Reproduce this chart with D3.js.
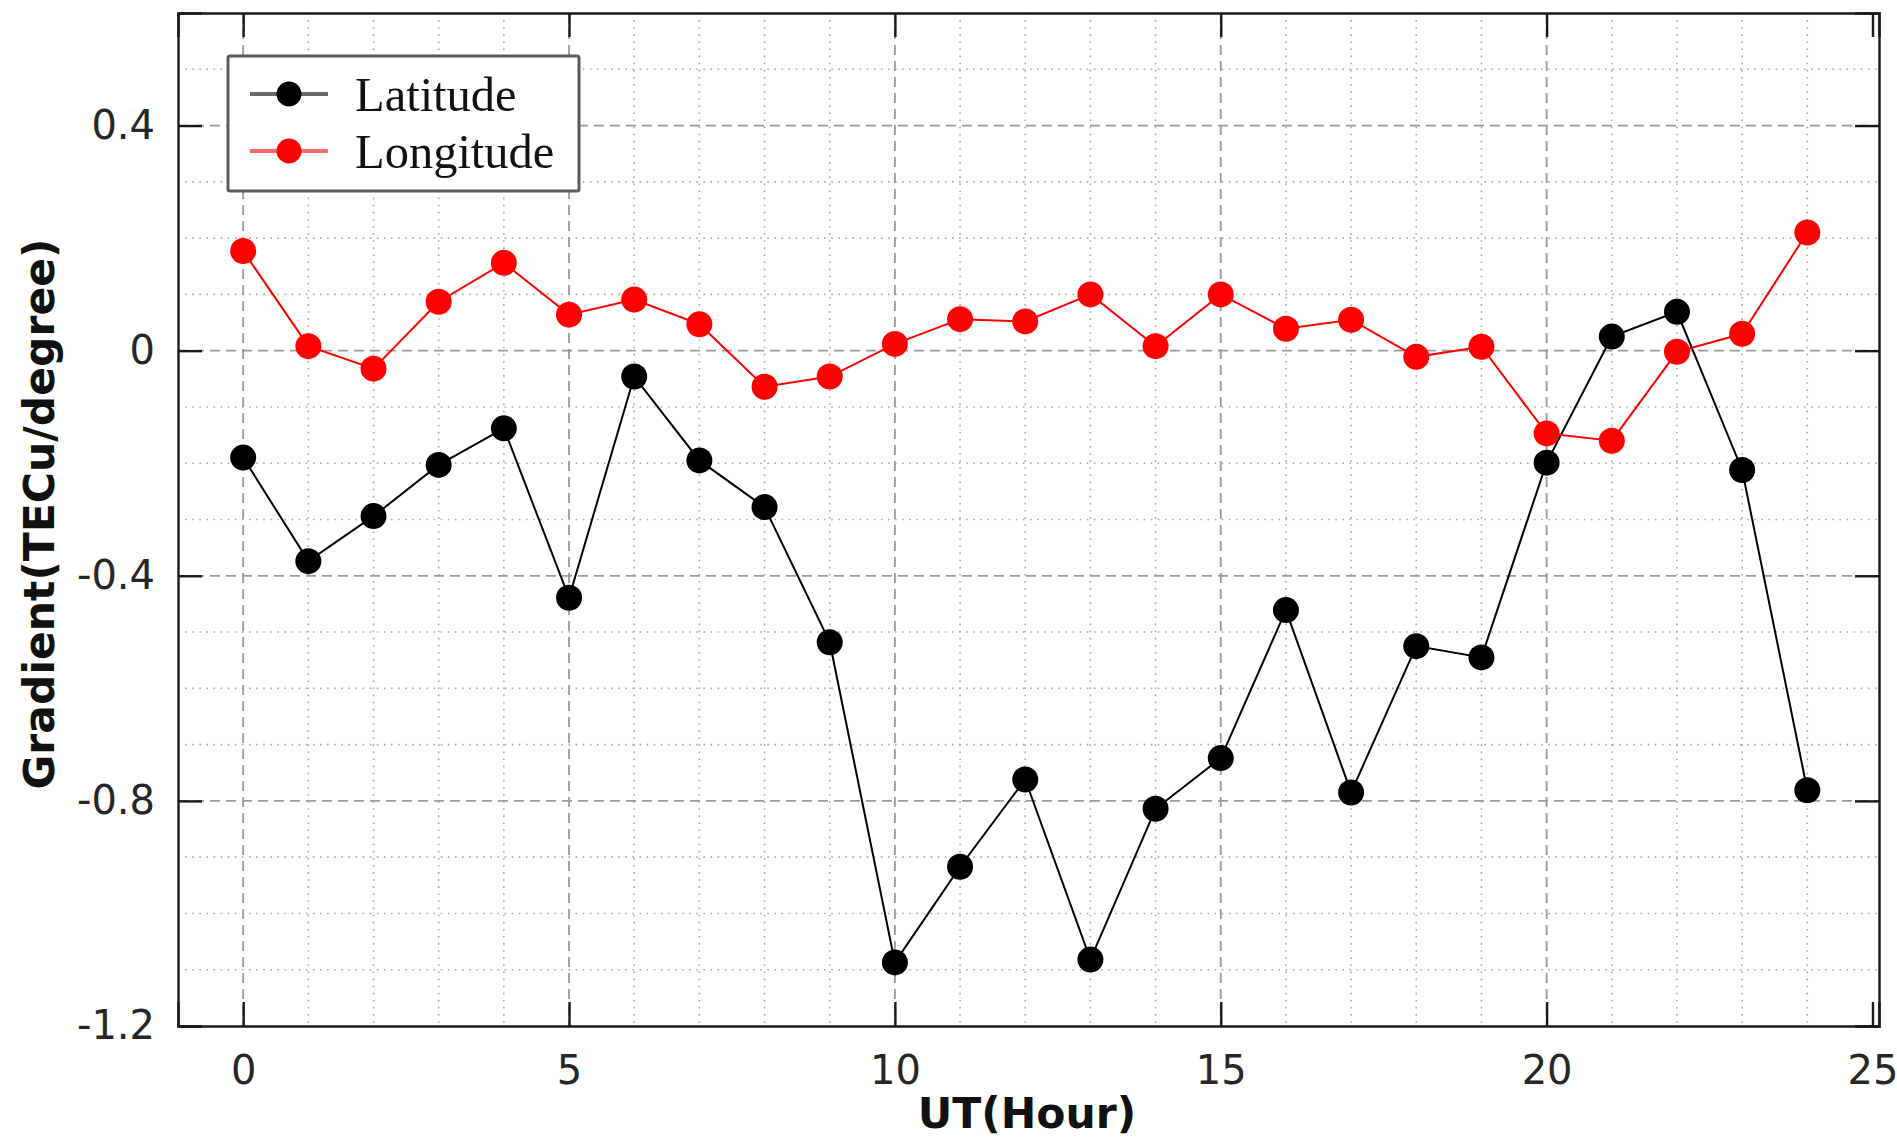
<!DOCTYPE html>
<html>
<head>
<meta charset="utf-8">
<script src="https://cdn.jsdelivr.net/npm/d3@7"></script>
<style>
  html, body { margin: 0; padding: 0; background: #fff; }
  svg { display: block; }
</style>
</head>
<body>
<svg id="chart" width="1897" height="1137"></svg>
<script>
const hours = [0,1,2,3,4,5,6,7,8,9,10,11,12,13,14,15,16,17,18,19,20,21,22,23,24];
const latitude = [-0.19, -0.374, -0.294, -0.203, -0.138, -0.439, -0.046, -0.195, -0.278, -0.518,
                  -1.087, -0.917, -0.762, -1.082, -0.814, -0.724, -0.461, -0.785, -0.525, -0.545,
                  -0.199, 0.025, 0.069, -0.212, -0.781];
const longitude = [0.177, 0.008, -0.032, 0.087, 0.156, 0.064, 0.091, 0.047, -0.064, -0.046,
                   0.012, 0.056, 0.052, 0.100, 0.008, 0.100, 0.039, 0.055, -0.011, 0.007,
                   -0.147, -0.160, -0.002, 0.030, 0.210];
const seriesNames = ["Latitude", "Longitude"];
const xTicks = [0, 5, 10, 15, 20, 25];
const yTicks = [-1.2, -0.8, -0.4, 0, 0.4];
const yTickLabels = ["-1.2", "-0.8", "-0.4", "0", "0.4"];
const xTitle = "UT(Hour)";
const yTitle = "Gradient(TECu/degree)";

const L = 178, R = 1879, T = 13, B = 1026;
const svg = d3.select("#chart");
const x = d3.scaleLinear().domain([-1, 25.1]).range([L, R]);
const y = d3.scaleLinear().domain([-1.2, 0.6]).range([B, T]);

const grid = svg.append("g");
// minor grid
const minorX = d3.range(0, 25, 1).filter(v => v % 5 !== 0);
const minorY = d3.range(-11, 6, 1).map(v => v / 10).filter(v => Math.round(v * 10) % 4 !== 0);
grid.selectAll(".mx").data(minorX).enter().append("line")
  .attr("x1", d => x(d)).attr("x2", d => x(d)).attr("y1", T).attr("y2", B)
  .attr("stroke", "#a8a8a8").attr("stroke-width", 1.6).attr("stroke-dasharray", "1.6,5.5");
grid.selectAll(".my").data(minorY).enter().append("line")
  .attr("y1", d => y(d)).attr("y2", d => y(d)).attr("x1", L).attr("x2", R)
  .attr("stroke", "#a8a8a8").attr("stroke-width", 1.6).attr("stroke-dasharray", "1.6,5.5");
// major grid
grid.selectAll(".Mx").data(xTicks.filter(v => v < 25)).enter().append("line")
  .attr("x1", d => x(d)).attr("x2", d => x(d)).attr("y1", T).attr("y2", B)
  .attr("stroke", "#9a9a9a").attr("stroke-width", 1.8).attr("stroke-dasharray", "10,6");
grid.selectAll(".My").data(yTicks.filter(v => v > -1.2)).enter().append("line")
  .attr("y1", d => y(d)).attr("y2", d => y(d)).attr("x1", L).attr("x2", R)
  .attr("stroke", "#9a9a9a").attr("stroke-width", 1.8).attr("stroke-dasharray", "10,6");

// axes
const tickFont = "'DejaVu Sans', sans-serif";
const axB = svg.append("g").attr("transform", `translate(0,${B})`)
  .call(d3.axisBottom(x).tickValues(xTicks).tickSize(-24).tickPadding(30).tickFormat(d3.format("d")));
const axT = svg.append("g").attr("transform", `translate(0,${T})`)
  .call(d3.axisTop(x).tickValues(xTicks).tickSize(-24).tickFormat(""));
const axLf = svg.append("g").attr("transform", `translate(${L},0)`)
  .call(d3.axisLeft(y).tickValues(yTicks).tickSize(-24).tickPadding(23)
    .tickFormat((d, i) => yTickLabels[i]));
const axRt = svg.append("g").attr("transform", `translate(${R},0)`)
  .call(d3.axisRight(y).tickValues(yTicks).tickSize(-24).tickFormat(""));
[axB, axT, axLf, axRt].forEach(a => {
  a.select(".domain").attr("stroke", "#1a1a1a").attr("stroke-width", 2.4);
  a.selectAll(".tick line").attr("stroke", "#1a1a1a").attr("stroke-width", 2.4);
  a.selectAll(".tick text").attr("fill", "#262626").style("font-family", tickFont).style("font-size", "40px");
});
axB.selectAll(".tick text").attr("dy", "0.71em");

// lines
const line = d3.line().x((d, i) => x(hours[i])).y(d => y(d));
const series = [{ vals: latitude, color: "#000000" }, { vals: longitude, color: "#ff0000" }];
series.forEach(s => {
  svg.append("path").datum(s.vals).attr("d", line)
    .attr("fill", "none").attr("stroke", s.color).attr("stroke-width", 2);
});
series.forEach(s => {
  svg.append("g").selectAll("circle").data(s.vals).enter().append("circle")
    .attr("cx", (d, i) => x(hours[i])).attr("cy", d => y(d)).attr("r", 13)
    .attr("fill", s.color);
});

// legend
const lg = svg.append("g");
lg.append("rect").attr("x", 228).attr("y", 56).attr("width", 351).attr("height", 135)
  .attr("rx", 2).attr("fill", "#fff").attr("stroke", "#5a5a5a").attr("stroke-width", 3);
const legLineColors = ["#6a6a6a", "#ff6a6a"];
const legDotColors = ["#000000", "#ff0000"];
seriesNames.forEach((name, i) => {
  const cy = 94 + i * 57;
  lg.append("line").attr("x1", 250).attr("x2", 328).attr("y1", cy).attr("y2", cy)
    .attr("stroke", legLineColors[i]).attr("stroke-width", 4);
  lg.append("circle").attr("cx", 289).attr("cy", cy).attr("r", 12.5).attr("fill", legDotColors[i]);
  lg.append("text").attr("x", 355).attr("y", cy + 17).text(name)
    .style("font-family", "'Liberation Serif', serif").style("font-size", "48.5px").attr("fill", "#111");
});

// titles
svg.append("text").attr("x", 1027).attr("y", 1128).attr("text-anchor", "middle")
  .style("font-family", tickFont).style("font-weight", "bold").style("font-size", "42.5px")
  .attr("fill", "#111").text(xTitle);
svg.append("text").attr("transform", "translate(54,514) rotate(-90)").attr("text-anchor", "middle")
  .style("font-family", tickFont).style("font-weight", "bold").style("font-size", "42.5px")
  .attr("fill", "#111").text(yTitle);
</script>
</body>
</html>
